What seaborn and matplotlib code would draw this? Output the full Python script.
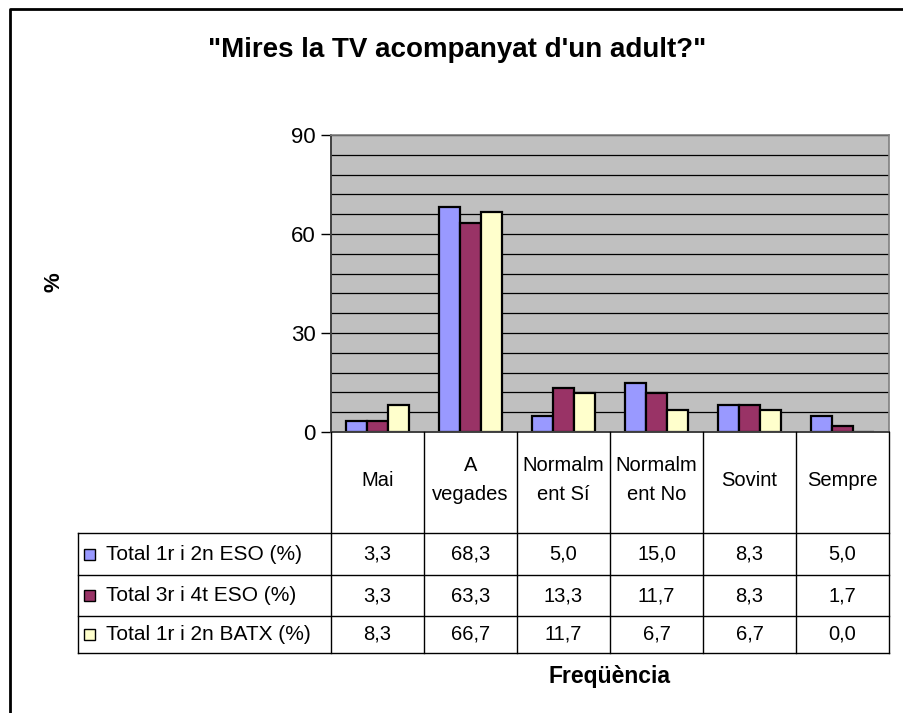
import numpy as np
import pandas as pd
import matplotlib
matplotlib.use("Agg")
import matplotlib.pyplot as plt
import matplotlib.transforms as mtransforms
from matplotlib.lines import Line2D
from matplotlib.patches import Rectangle
import seaborn as sns

# data
categories = ["Mai", "A\nvegades", "Normalm\nent Sí", "Normalm\nent No", "Sovint", "Sempre"]
series = ["Total 1r i 2n ESO (%)", "Total 3r i 4t ESO (%)", "Total 1r i 2n BATX (%)"]
eso12 = [3.3, 68.3, 5.0, 15.0, 8.3, 5.0]
eso34 = [3.3, 63.3, 13.3, 11.7, 8.3, 1.7]
batx = [8.3, 66.7, 11.7, 6.7, 6.7, 0.0]
colors = ["#9999FF", "#993366", "#FFFFCC"]

df = pd.DataFrame({
    "cat": categories * 3,
    "serie": [series[0]] * 6 + [series[1]] * 6 + [series[2]] * 6,
    "val": eso12 + eso34 + batx,
})

plt.rcParams["font.family"] = ["Liberation Sans", "DejaVu Sans"]

W, H = 904, 713
fig = plt.figure(figsize=(W / 100, H / 100), dpi=100)

def fx(px):
    return px / W

def fy(py):
    return 1 - py / H

# plot area
left, right, top, bottom = 331, 889, 135, 432
ax = fig.add_axes([fx(left), fy(bottom), fx(right) - fx(left), fy(top) - fy(bottom)])
ax.set_facecolor("#C0C0C0")

sns.barplot(data=df, x="cat", y="val", hue="serie", palette=colors, width=0.68,
            edgecolor="black", linewidth=1.6, ax=ax, legend=False, order=categories,
            saturation=1)

ax.set_xlim(-0.5, 5.5)
ax.set_ylim(0, 90)
ax.set_yticks([0, 30, 60, 90])
ax.set_yticks(np.arange(0, 91, 6), minor=True)
ax.grid(which="both", axis="y", color="black", linewidth=0.9)
ax.set_axisbelow(True)
ax.tick_params(axis="y", which="major", length=7, width=1, labelsize=16, pad=4)
ax.tick_params(axis="y", which="minor", length=0)
ax.set_xticks([])
ax.set_xlabel("")
ax.set_ylabel("")
for s in ["top", "right"]:
    ax.spines[s].set_color("#808080")
    ax.spines[s].set_linewidth(1.2)
for s in ["left", "bottom"]:
    ax.spines[s].set_color("#404040")
    ax.spines[s].set_linewidth(1.4)

# data table under the chart
trans = mtransforms.blended_transform_factory(ax.transData, fig.transFigure)
hdr_bot, rows = 533, [533, 575, 616, 653]
tab_left = 78
lw = 1.0

for i in range(len(categories) + 1):
    fig.add_artist(Line2D([i - 0.5, i - 0.5], [fy(bottom), fy(rows[-1])], transform=trans,
                          color="black", lw=lw))
for r in rows:
    fig.add_artist(Line2D([fx(tab_left), fx(right)], [fy(r), fy(r)], color="black", lw=lw))
fig.add_artist(Line2D([fx(tab_left), fx(tab_left)], [fy(rows[0]), fy(rows[-1])], color="black", lw=lw))

for i, c in enumerate(categories):
    fig.text(i, fy(480), c, transform=trans, ha="center", va="center",
             fontsize=14.5, linespacing=1.65)

for j, (name, vals) in enumerate(zip(series, [eso12, eso34, batx])):
    yc = fy((rows[j] + rows[j + 1]) / 2)
    fig.add_artist(Rectangle((fx(84), yc - 5.5 / H), 11 / W, 11 / H, facecolor=colors[j],
                             edgecolor="black", lw=1))
    fig.text(fx(106), yc, name, ha="left", va="center", fontsize=15)
    for i, v in enumerate(vals):
        fig.text(i, yc, f"{v:.1f}".replace(".", ","), transform=trans, ha="center",
                 va="center", fontsize=14.5)

# titles
fig.text(fx(457), fy(50), "\"Mires la TV acompanyat d'un adult?\"", ha="center", va="center",
         fontsize=20, fontweight="bold")
fig.text(fx(54), fy(282), "%", ha="center", va="center", rotation=90, fontsize=16,
         fontweight="bold")
fig.text(fx(610), fy(677), "Freqüència", ha="center", va="center", fontsize=16.5,
         fontweight="bold")

# outer chart border
fig.add_artist(Line2D([fx(10), fx(10), fx(W + 5)], [fy(H + 5), fy(9), fy(9)], color="black", lw=2))

fig.savefig("out.png", dpi=100)
